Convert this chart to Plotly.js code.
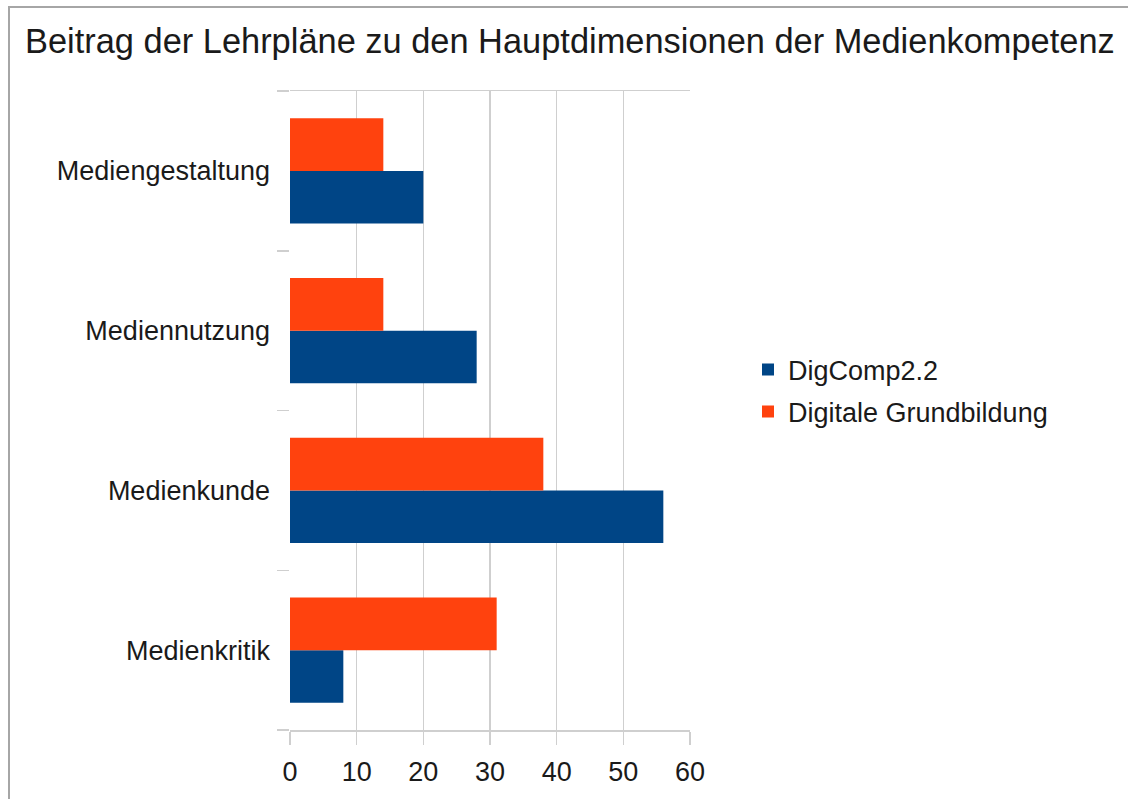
<!DOCTYPE html>
<html>
<head>
<meta charset="utf-8">
<script src="https://cdn.plot.ly/plotly-3.0.1.min.js"></script>
<style>
  html, body { margin: 0; padding: 0; background: #ffffff; }
  #wrap { position: relative; width: 1128px; height: 799px; overflow: hidden; }
  #chart { width: 1128px; height: 799px; }
  #frame { position: absolute; left: 8px; top: 6px; width: 1200px; height: 900px;
           border-left: 2px solid #a6a6a6; border-top: 2px solid #a6a6a6; pointer-events: none; }
</style>
</head>
<body>
<div id="wrap">
  <div id="chart"></div>
  <div id="frame"></div>
</div>
<script>
// Categories listed bottom to top
const categories = ['Medienkritik', 'Medienkunde', 'Mediennutzung', 'Mediengestaltung'];
const seriesNames = ['DigComp2.2', 'Digitale Grundbildung'];
const digComp = [8, 56, 28, 20];
const digitaleGrundbildung = [31, 38, 14, 14];
const xTicks = [0, 10, 20, 30, 40, 50, 60];
const chartTitle = 'Beitrag der Lehrpläne zu den Hauptdimensionen der Medienkompetenz';

const FONT = 'Liberation Sans, Arial, sans-serif';
const TXT = '#1a1a1a';
const GRID = '#cfcfcf';

const traces = [
  { type: 'bar', orientation: 'h', name: seriesNames[0], y: categories, x: digComp,
    marker: { color: '#004586' }, legend: 'legend', hoverinfo: 'x+y+name' },
  { type: 'bar', orientation: 'h', name: seriesNames[1], y: categories, x: digitaleGrundbildung,
    marker: { color: '#ff420e' }, legend: 'legend2', hoverinfo: 'x+y+name' }
];

const layout = {
  width: 1128, height: 799,
  margin: { l: 290, r: 438, t: 91, b: 69, pad: 0 },
  paper_bgcolor: '#ffffff', plot_bgcolor: '#ffffff',
  font: { family: FONT, color: TXT, size: 27 },
  title: { text: chartTitle, font: { family: FONT, size: 34.4, color: TXT },
           xref: 'container', yref: 'container', x: 25 / 1128, xanchor: 'left',
           y: 1 - 41 / 799, yanchor: 'middle' },
  barmode: 'group', bargap: 0.34, bargroupgap: 0,
  xaxis: { range: [0, 60], tickvals: xTicks, ticktext: xTicks.map(String),
           showgrid: true, gridcolor: GRID, gridwidth: 1.5, zeroline: false,
           showline: true, linecolor: GRID, linewidth: 1.5, mirror: true,
           ticks: 'outside', ticklen: 13, tickcolor: GRID, tickwidth: 1.5,
           ticklabelstandoff: 4,
           tickfont: { size: 27, family: FONT, color: TXT }, fixedrange: true },
  yaxis: { type: 'category', categoryorder: 'array', categoryarray: categories,
           tickson: 'boundaries', ticks: 'outside', ticklen: 12, tickcolor: GRID, tickwidth: 1.5,
           ticklabelstandoff: 19,
           showgrid: false, zeroline: false, showline: false,
           tickfont: { size: 27, family: FONT, color: TXT }, fixedrange: true },
  legend: { x: 1.145, xanchor: 'left', y: 0.5634, yanchor: 'middle',
            font: { size: 27, family: FONT, color: TXT }, bgcolor: 'rgba(0,0,0,0)' },
  legend2: { x: 1.145, xanchor: 'left', y: 0.4977, yanchor: 'middle',
             font: { size: 27, family: FONT, color: TXT }, bgcolor: 'rgba(0,0,0,0)' },
  showlegend: true
};

Plotly.newPlot('chart', traces, layout, { displayModeBar: false, staticPlot: true });
</script>
</body>
</html>
